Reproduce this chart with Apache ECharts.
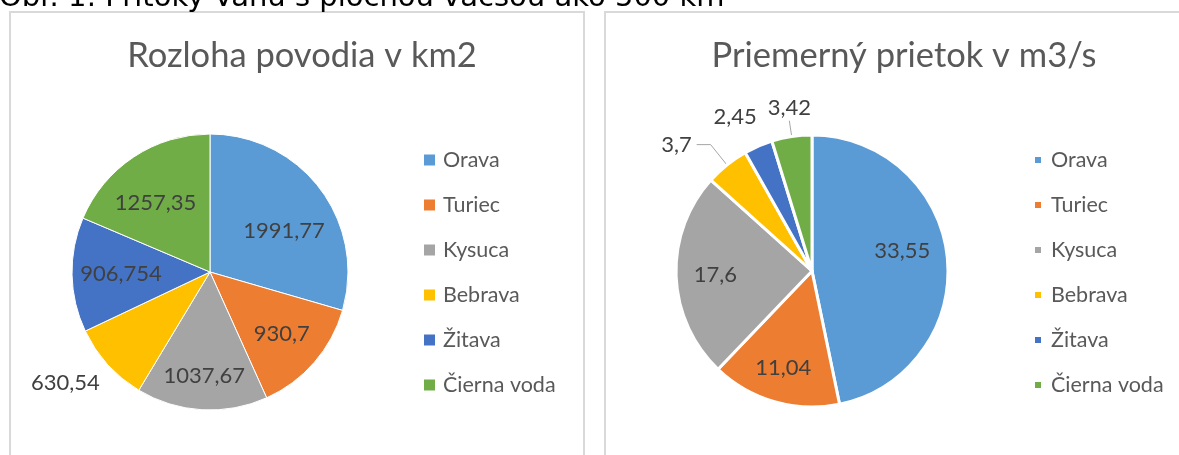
<!DOCTYPE html>
<html>
<head>
<meta charset="utf-8">
<script src="https://cdn.jsdelivr.net/npm/echarts@6/dist/echarts.min.js"></script>
<style>
  html, body { margin: 0; padding: 0; background: #fff; }
  #main { width: 1179px; height: 455px; }
</style>
</head>
<body>
<div id="main"></div>
<script>
// data
const rivers = ['Orava', 'Turiec', 'Kysuca', 'Bebrava', 'Žitava', 'Čierna voda'];
const area = [1991.77, 930.7, 1037.67, 630.54, 906.754, 1257.35];
const flow = [33.55, 11.04, 17.6, 3.7, 2.45, 3.42];
const colors = ['#5B9BD5', '#ED7D31', '#A5A5A5', '#FFC000', '#4472C4', '#70AD47'];
const caption = 'Obr. 1: Prítoky Váhu s plochou väčšou ako 500 km';
const titles = ['Rozloha povodia v km2', 'Priemerný prietok v m3/s'];

// layout
const centers = [[210, 272], [812, 271]];
const radii = [138, 136];
const FONT = 'Lato';

// small slices whose label sits outside the pie (per chart)
const outerLabels = [
  { 'Bebrava': { line: false, length: 4, length2: 0, dy: 16 } },
  {
    'Bebrava': { line: true, length: 26, length2: 14 },
    'Žitava': { line: false, length: 14, length2: 0, dx: 9, dy: -16 },
    'Čierna voda': { line: true, length: 16, length2: 0, top: true }
  }
];
// small nudges of inside labels (Excel "best fit" is not exactly mid-angle)
const innerNudge = [
  { 'Orava': [-2, 16], 'Kysuca': [0, 9], 'Žitava': [6, 0], 'Čierna voda': [-2, 10] },
  { 'Orava': [-3, -11], 'Turiec': [-3, 7], 'Kysuca': [-3, 0] }
];

function fmt(v) {
  return String(v).replace('.', ',');
}

function buildData(values, idx) {
  const outer = outerLabels[idx];
  return rivers.map((name, i) => {
    const item = { name: name, value: values[i] };
    const o = outer[name];
    if (o) {
      item.label = { position: 'outside' };
      item.labelLine = { show: o.line, length: o.length, length2: o.length2 };
    }
    return item;
  });
}

function labelLayout(params) {
  const s = params.seriesIndex;
  const c = centers[s];
  const name = rivers[params.dataIndex];
  const o = outerLabels[s][name];
  if (o) {
    if (o.top && params.labelLinePoints) {
      const pts = params.labelLinePoints;
      const end = pts[pts.length - 1];
      return { x: end[0], y: end[1] - 2, align: 'center', verticalAlign: 'bottom', labelLinePoints: pts };
    }
    return { dx: o.dx || 0, dy: o.dy || 0 };
  }
  // inside labels: push further out from the center
  const rc = params.labelRect;
  const dx = rc.x + rc.width / 2 - c[0];
  const dy = rc.y + rc.height / 2 - c[1];
  const k = 1.32;
  const n = innerNudge[s][name] || [0, 0];
  return { x: c[0] + dx * k + n[0], y: c[1] + dy * k + n[1], align: 'center', verticalAlign: 'middle' };
}

const chart = echarts.init(document.getElementById('main'));

function pieSeries(idx, values, borderW) {
  return {
    type: 'pie',
    center: centers[idx],
    radius: radii[idx],
    startAngle: 90,
    clockwise: true,
    avoidLabelOverlap: false,
    animation: false,
    itemStyle: { borderColor: '#fff', borderWidth: borderW },
    label: {
      position: 'inside',
      formatter: (p) => fmt(p.value),
      color: '#404040',
      fontSize: 22,
      fontFamily: FONT
    },
    labelLine: { lineStyle: { color: '#A6A6A6', width: 1 } },
    labelLayout: labelLayout,
    emphasis: { disabled: true },
    data: buildData(values, idx)
  };
}

function legend(idx, left, size, gap) {
  return {
    orient: 'vertical',
    left: left,
    top: 143,
    icon: 'rect',
    itemWidth: size,
    itemHeight: size,
    itemGap: 21,
    selectedMode: false,
    seriesIndex: idx,
    data: rivers,
    textStyle: { color: '#595959', fontSize: 21.5, fontFamily: FONT, lineHeight: 24, padding: [0, 0, 0, gap] }
  };
}

const titleStyle = { color: '#595959', fontSize: 34.5, fontWeight: 'normal', fontFamily: FONT };

const option = {
  color: colors,
  animation: false,
  title: [
    { text: titles[0], left: 297, top: 33, textAlign: 'center', textStyle: titleStyle },
    { text: titles[1], left: 899, top: 33, textAlign: 'center', textStyle: titleStyle }
  ],
  legend: [legend(0, 417, 13, 2), legend(1, 1028, 8, 4)],
  graphic: [
    {
      type: 'rect', silent: true,
      shape: { x: 10, y: 12, width: 574, height: 460 },
      style: { fill: 'none', stroke: '#D9D9D9', lineWidth: 2 }
    },
    {
      type: 'rect', silent: true,
      shape: { x: 605, y: 12, width: 600, height: 460 },
      style: { fill: 'none', stroke: '#D9D9D9', lineWidth: 2 }
    },
    {
      type: 'text', silent: true, x: -1, y: -2,
      style: { text: caption, font: '29px "DejaVu Sans"', fill: '#000', verticalAlign: 'middle' }
    }
  ],
  series: [
    pieSeries(0, area, 1),
    pieSeries(1, flow, 3)
  ]
};

chart.setOption(option);
</script>
</body>
</html>
